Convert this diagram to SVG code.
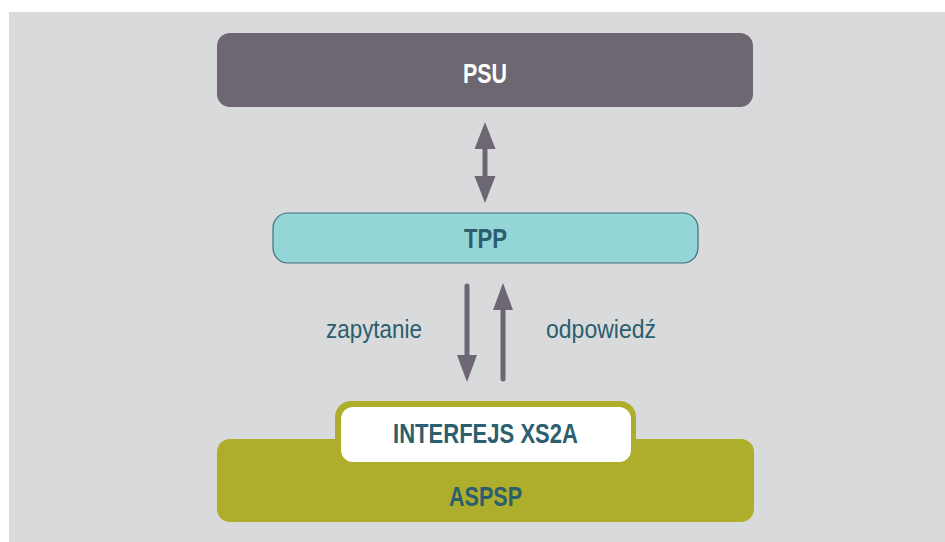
<svg xmlns="http://www.w3.org/2000/svg" width="945" height="542" viewBox="0 0 945 542">
<style>
.lbl{font-family:"Liberation Sans",Arial,sans-serif;font-weight:bold;font-size:28px;text-anchor:middle;fill:#2b5e6e}
.side{font-family:"Liberation Sans",Arial,sans-serif;font-size:26px;fill:#2b5e6e}
.arr{stroke:#6c6772;stroke-width:5;fill:none}
</style>
<defs>
<marker id="ah" viewBox="0 0 20 27" refX="20" refY="10" markerWidth="27" markerHeight="20" markerUnits="userSpaceOnUse" orient="auto-start-reverse">
<path d="M0,0 L27,10 L0,20 Z" fill="#6c6772"/>
</marker>
</defs>
<rect x="0" y="0" width="945" height="542" fill="#ffffff"/>
<rect x="9" y="12" width="936" height="530" fill="#d9dadc"/>
<g id="psu">
<rect x="217" y="33" width="536" height="74" rx="13" fill="#6d6772"/>
<text x="485" y="83" class="lbl" style="fill:#ffffff" textLength="44" lengthAdjust="spacingAndGlyphs">PSU</text>
</g>
<g id="tpp">
<rect x="273" y="213" width="425" height="50" rx="15" fill="#94d5d7" stroke="#3e6f7c" stroke-width="1.2"/>
<text x="485.5" y="248" class="lbl" textLength="43" lengthAdjust="spacingAndGlyphs">TPP</text>
</g>
<g id="aspsp">
<rect x="217" y="439" width="537" height="83" rx="13" fill="#afae2c"/>
<text x="485.5" y="506" class="lbl" textLength="73" lengthAdjust="spacingAndGlyphs">ASPSP</text>
</g>
<g id="xs2a">
<rect x="335" y="401" width="301" height="66" rx="16" fill="#afae2c"/>
<rect x="341" y="407" width="290" height="55" rx="12" fill="#ffffff"/>
<text x="485.5" y="443" class="lbl" textLength="185" lengthAdjust="spacingAndGlyphs">INTERFEJS XS2A</text>
</g>
<g id="connectors">
<path d="M485,145 L485,180" class="arr"/>
<path d="M485,122 L474.5,149 L495.5,149 Z" fill="#6c6772"/>
<path d="M485,203 L474.5,176 L495.5,176 Z" fill="#6c6772"/>
<path d="M467,286 L467,360" class="arr" stroke-linecap="round"/>
<path d="M467,382 L457,355 L477,355 Z" fill="#6c6772"/>
<path d="M503,305 L503,379" class="arr" stroke-linecap="round"/>
<path d="M503,283 L493,310 L513,310 Z" fill="#6c6772"/>
</g>
<text x="326" y="338" class="side" textLength="96" lengthAdjust="spacingAndGlyphs">zapytanie</text>
<text x="546" y="338" class="side" textLength="110" lengthAdjust="spacingAndGlyphs">odpowiedź</text>
</svg>
